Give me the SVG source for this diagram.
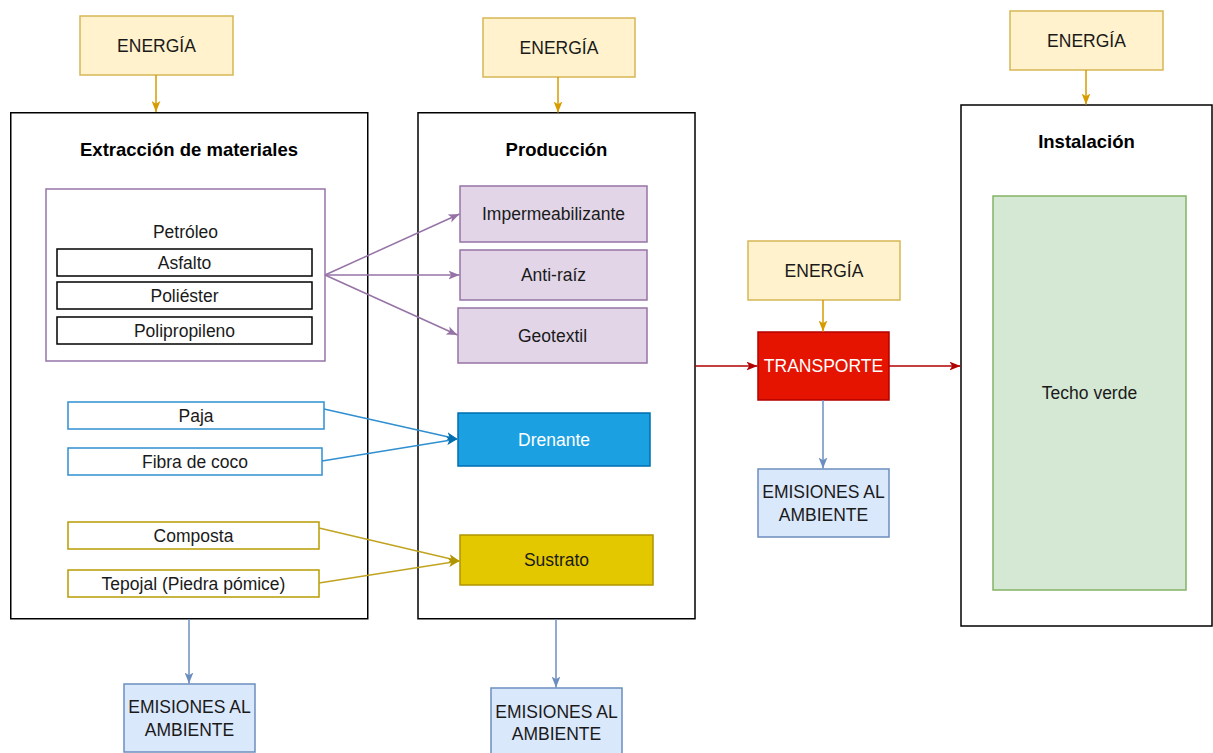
<svg xmlns="http://www.w3.org/2000/svg" width="1213" height="753" viewBox="0 0 1213 753">
<style>
text{font-family:"Liberation Sans",Arial,sans-serif;font-size:17.5px;fill:#1a1a1a;text-anchor:middle}
.b{font-weight:bold;font-size:18.5px;fill:#000}
.w{fill:#ffffff}
.energy{fill:#fff2cc;stroke:#d6b656;stroke-width:1.5}
.emis{fill:#dae8fc;stroke:#6c8ebf;stroke-width:1.5}
.cont{fill:#ffffff;stroke:#000;stroke-width:1.5}
.purp{fill:#e1d5e7;stroke:#9673a6;stroke-width:1.5}
.plain{fill:#ffffff;stroke:#000;stroke-width:1.5}
.bl{fill:#ffffff;stroke:#2f8fd0;stroke-width:1.5}
.yl{fill:#ffffff;stroke:#b89c00;stroke-width:1.5}
.c{fill:none;stroke-width:1.5}
</style>
<defs>
<marker id="mG" viewBox="0 0 10 8" refX="10" refY="4" markerWidth="11" markerHeight="9" markerUnits="userSpaceOnUse" orient="auto"><path d="M0,0 L10,4 L0,8 L2.5,4 z" fill="#d79b00"/></marker>
<marker id="mE" viewBox="0 0 10 8" refX="10" refY="4" markerWidth="11" markerHeight="9" markerUnits="userSpaceOnUse" orient="auto"><path d="M0,0 L10,4 L0,8 L2.5,4 z" fill="#6c8ebf"/></marker>
<marker id="mR" viewBox="0 0 10 8" refX="10" refY="4" markerWidth="11" markerHeight="9" markerUnits="userSpaceOnUse" orient="auto"><path d="M0,0 L10,4 L0,8 L2.5,4 z" fill="#b20000"/></marker>
<marker id="mP" viewBox="0 0 10 8" refX="10" refY="4" markerWidth="11" markerHeight="9" markerUnits="userSpaceOnUse" orient="auto"><path d="M0,0 L10,4 L0,8 L2.5,4 z" fill="#9673a6"/></marker>
<marker id="mB" viewBox="0 0 10 8" refX="10" refY="4" markerWidth="11" markerHeight="9" markerUnits="userSpaceOnUse" orient="auto"><path d="M0,0 L10,4 L0,8 L2.5,4 z" fill="#006eaf"/></marker>
<marker id="mY" viewBox="0 0 10 8" refX="10" refY="4" markerWidth="11" markerHeight="9" markerUnits="userSpaceOnUse" orient="auto"><path d="M0,0 L10,4 L0,8 L2.5,4 z" fill="#b09500"/></marker>
</defs>
<rect width="1213" height="753" fill="#ffffff"/>

<g id="extraccion">
<rect class="cont" x="10.75" y="112.75" width="357" height="506"/>
<text class="b" x="189" y="155.5">Extracción de materiales</text>
</g>
<g id="produccion">
<rect class="cont" x="418" y="112.75" width="277" height="506"/>
<text class="b" x="556.5" y="156">Producción</text>
</g>
<g id="instalacion">
<rect class="cont" x="961" y="105" width="251" height="521"/>
<text class="b" x="1086.5" y="147.5">Instalación</text>
</g>

<g id="energia1"><rect class="energy" x="80" y="16" width="153" height="59"/><text x="156.5" y="51.5">ENERGÍA</text></g>
<g id="energia2"><rect class="energy" x="483" y="18" width="152" height="59"/><text x="559" y="53.5">ENERGÍA</text></g>
<g id="energia3"><rect class="energy" x="1010" y="11" width="153" height="59"/><text x="1086.5" y="46.5">ENERGÍA</text></g>
<g id="energia4"><rect class="energy" x="748" y="241" width="152" height="59"/><text x="824" y="276.5">ENERGÍA</text></g>

<g id="petroleo">
<rect x="46" y="189" width="279" height="172" fill="#ffffff" stroke="#9673a6" stroke-width="1.5"/>
<text x="185.5" y="238">Petróleo</text>
</g>
<g id="asfalto"><rect class="plain" x="57" y="249" width="255" height="27"/><text x="184.5" y="268.5">Asfalto</text></g>
<g id="poliester"><rect class="plain" x="57" y="282" width="255" height="27"/><text x="184.5" y="301.5">Poliéster</text></g>
<g id="polipropileno"><rect class="plain" x="57" y="317" width="255" height="27"/><text x="184.5" y="336.5">Polipropileno</text></g>

<g id="paja"><rect class="bl" x="68" y="402" width="256" height="27"/><text x="196" y="421.5">Paja</text></g>
<g id="fibra"><rect class="bl" x="68" y="448" width="254" height="27"/><text x="195" y="467.5">Fibra de coco</text></g>
<g id="composta"><rect class="yl" x="68" y="522" width="251" height="27"/><text x="193.5" y="541.5">Composta</text></g>
<g id="tepojal"><rect class="yl" x="68" y="570" width="251" height="27"/><text x="193.5" y="589.5">Tepojal (Piedra pómice)</text></g>

<g id="impermeabilizante"><rect class="purp" x="460" y="186" width="187" height="56"/><text x="553.5" y="220">Impermeabilizante</text></g>
<g id="antiraiz"><rect class="purp" x="460" y="250" width="187" height="50"/><text x="553.5" y="281">Anti-raíz</text></g>
<g id="geotextil"><rect class="purp" x="458" y="308" width="189" height="55"/><text x="552.5" y="341.5">Geotextil</text></g>
<g id="drenante"><rect x="458" y="413" width="192" height="53" fill="#1ba1e2" stroke="#006eaf" stroke-width="1.5"/><text class="w" x="554" y="445.5">Drenante</text></g>
<g id="sustrato"><rect x="460" y="535" width="193" height="50" fill="#e3c800" stroke="#b09500" stroke-width="1.5"/><text x="556.5" y="566">Sustrato</text></g>

<g id="transporte"><rect x="758" y="332" width="131" height="68" fill="#e51400" stroke="#b20000" stroke-width="1.5"/><text class="w" x="823.5" y="372">TRANSPORTE</text></g>

<g id="techo"><rect x="993" y="196" width="193" height="394" fill="#d5e8d4" stroke="#82b366" stroke-width="1.5"/><text x="1089.5" y="399">Techo verde</text></g>

<g id="emisiones1"><rect class="emis" x="124" y="684" width="131" height="68"/><text x="189.5" y="713">EMISIONES AL</text><text x="189.5" y="736">AMBIENTE</text></g>
<g id="emisiones2"><rect class="emis" x="491" y="688" width="131" height="68"/><text x="556.5" y="717.5">EMISIONES AL</text><text x="556.5" y="740">AMBIENTE</text></g>
<g id="emisiones3"><rect class="emis" x="758" y="469" width="131" height="68"/><text x="823.5" y="497.5">EMISIONES AL</text><text x="823.5" y="520.5">AMBIENTE</text></g>

<g id="connectors">
<line class="c" stroke="#d79b00" x1="156" y1="75" x2="156" y2="112" marker-end="url(#mG)"/>
<line class="c" stroke="#d79b00" x1="558" y1="77" x2="558" y2="112.5" marker-end="url(#mG)"/>
<line class="c" stroke="#d79b00" x1="1086" y1="70" x2="1086" y2="104.5" marker-end="url(#mG)"/>
<line class="c" stroke="#d79b00" x1="823" y1="300" x2="823" y2="331.5" marker-end="url(#mG)"/>
<line class="c" stroke="#6c8ebf" x1="189" y1="619" x2="189" y2="683.5" marker-end="url(#mE)"/>
<line class="c" stroke="#6c8ebf" x1="556" y1="619" x2="556" y2="687.5" marker-end="url(#mE)"/>
<line class="c" stroke="#6c8ebf" x1="823" y1="400" x2="823" y2="468.5" marker-end="url(#mE)"/>
<line class="c" stroke="#b20000" x1="695" y1="366" x2="757.5" y2="366" marker-end="url(#mR)"/>
<line class="c" stroke="#b20000" x1="889" y1="366" x2="960.5" y2="366" marker-end="url(#mR)"/>
<line class="c" stroke="#9673a6" x1="325" y1="275" x2="459.5" y2="214" marker-end="url(#mP)"/>
<line class="c" stroke="#9673a6" x1="325" y1="275" x2="459.5" y2="275" marker-end="url(#mP)"/>
<line class="c" stroke="#9673a6" x1="325" y1="275" x2="457.5" y2="335" marker-end="url(#mP)"/>
<line class="c" stroke="#2f8fd0" x1="324" y1="409" x2="457.5" y2="439" marker-end="url(#mB)"/>
<line class="c" stroke="#2f8fd0" x1="322" y1="461" x2="457.5" y2="439" marker-end="url(#mB)"/>
<line class="c" stroke="#c0a420" x1="319" y1="528" x2="459.5" y2="561" marker-end="url(#mY)"/>
<line class="c" stroke="#c0a420" x1="319" y1="583" x2="459.5" y2="561" marker-end="url(#mY)"/>
</g>
</svg>
